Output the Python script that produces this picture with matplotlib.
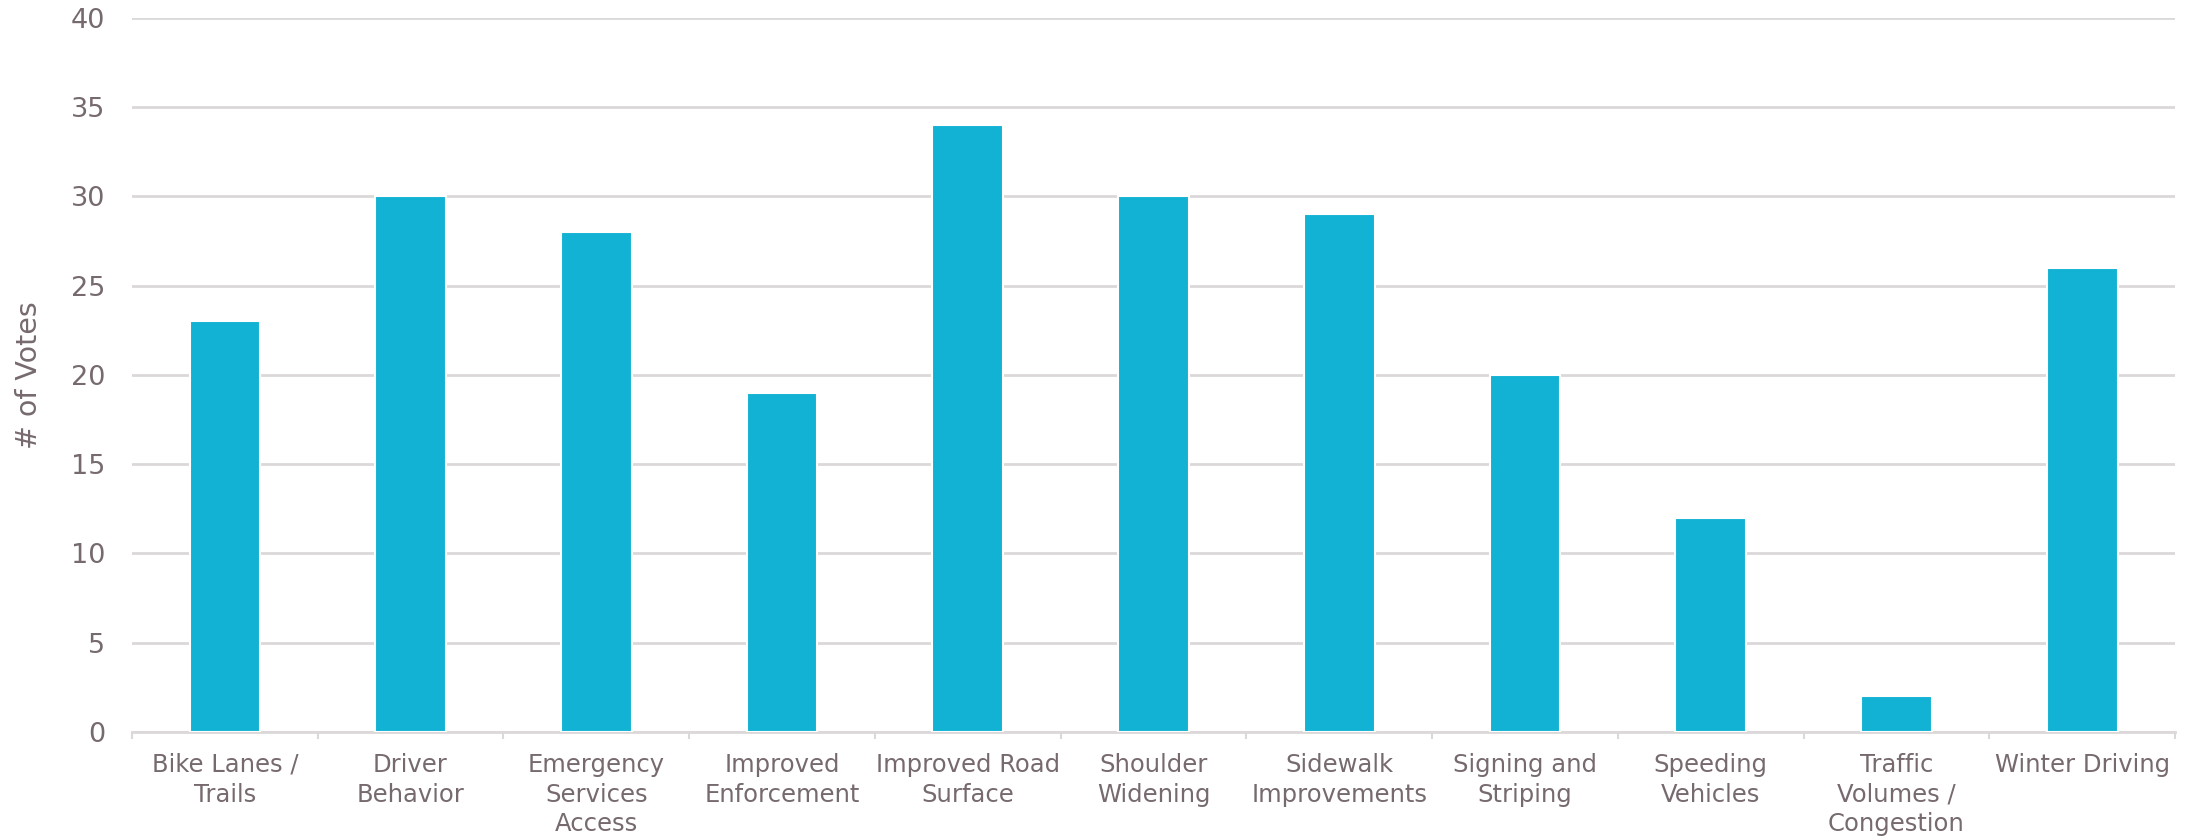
import matplotlib
import numpy as np

matplotlib.use('Agg')
import matplotlib.pyplot as plt

CATEGORIES = [
    'Bike Lanes /\nTrails',
    'Driver\nBehavior',
    'Emergency\nServices\nAccess',
    'Improved\nEnforcement',
    'Improved Road\nSurface',
    'Shoulder\nWidening',
    'Sidewalk\nImprovements',
    'Signing and\nStriping',
    'Speeding\nVehicles',
    'Traffic\nVolumes /\nCongestion',
    'Winter Driving',
]
VOTES = [23, 30, 28, 19, 34, 30, 29, 20, 12, 2, 26]
Y_TICKS = [0, 5, 10, 15, 20, 25, 30, 35, 40]

BAR_COLOR = '#12b2d4'
TEXT_COLOR = '#766a6e'
GRID_COLOR = '#dcd8d9'

fig = plt.figure(figsize=(21.88, 8.36), dpi=100)
ax = fig.add_axes([0.0603, 0.1244, 0.9338, 0.8541])

x = np.arange(len(VOTES))
ax.bar(x, VOTES, width=0.38, color=BAR_COLOR, edgecolor='white', linewidth=1.5, zorder=3)

ax.set_xlim(-0.5, len(VOTES) - 0.5)
ax.set_ylim(0, 40)
ax.set_yticks(Y_TICKS)
ax.yaxis.grid(True, color=GRID_COLOR, linewidth=2.0, zorder=0)
ax.set_axisbelow(True)

for side in ('top', 'right', 'left'):
    ax.spines[side].set_visible(False)
ax.spines['bottom'].set_color(GRID_COLOR)
ax.spines['bottom'].set_linewidth(2.0)

ax.tick_params(axis='y', length=0, pad=19, labelsize=19.5, labelcolor=TEXT_COLOR)
ax.set_xticks(x)
ax.set_xticklabels(CATEGORIES, fontsize=17.5, color=TEXT_COLOR, linespacing=1.3, va='top')
ax.tick_params(axis='x', which='major', length=0, pad=15)
ax.set_xticks(np.arange(-0.5, len(VOTES)), minor=True)
ax.tick_params(axis='x', which='minor', length=5, width=1.5, color=GRID_COLOR, direction='out')

ax.set_ylabel('# of Votes', fontsize=20.5, color=TEXT_COLOR, labelpad=20)

fig.savefig('out.png', dpi=100)
plt.close(fig)
